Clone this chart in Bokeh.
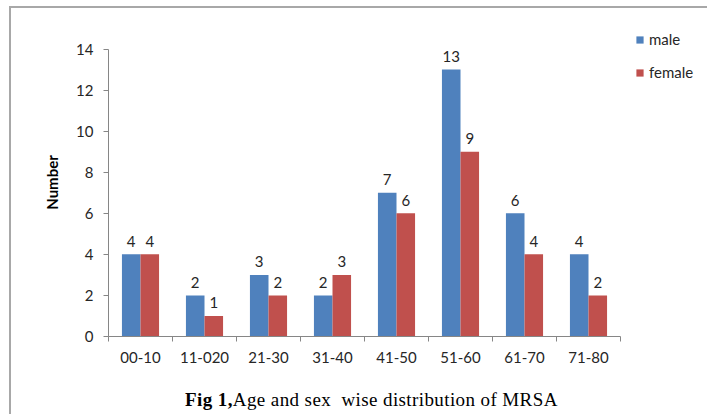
from bokeh.plotting import figure
from bokeh.layouts import column
from bokeh.models import (ColumnDataSource, Range1d, LinearAxis,
                          FixedTicker, Legend, LegendItem, Div)
from bokeh.transform import dodge
from bokeh.core.properties import value
from bokeh.embed import file_html
from bokeh.resources import INLINE

age_groups = ["00-10", "11-020", "21-30", "31-40", "41-50", "51-60", "61-70", "71-80"]
male = [4, 2, 3, 2, 7, 13, 6, 4]
female = [4, 1, 2, 3, 6, 9, 4, 2]
y_ticks = [0, 2, 4, 6, 8, 10, 12, 14]
series_names = ["male", "female"]
colors = ["#4F81BD", "#C0504D"]
title_bold = "Fig 1,"
title_rest = "Age and sex  wise distribution of MRSA"
y_label = "Number"

FONT = "Lato"
AXIS_COLOR = "#868686"
TEXT_COLOR = "#262626"

n = len(age_groups)
centers = [i + 0.5 for i in range(n)]
src = ColumnDataSource(dict(
    pos=centers, group=age_groups,
    male=male, female=female,
    male_txt=[str(v) for v in male],
    female_txt=[str(v) for v in female],
))

p = figure(x_range=Range1d(0, n + 1.25), y_range=Range1d(0, 15),
           width=696, height=370,
           output_backend="svg", toolbar_location=None,
           x_axis_location=None, y_axis_location=None,
           min_border_left=97, min_border_right=7,
           min_border_top=20, min_border_bottom=42)
p.outline_line_color = None
p.xgrid.visible = False
p.ygrid.visible = False
p.margin = 0

# y axis
yax = LinearAxis(ticker=FixedTicker(ticks=y_ticks), bounds=(0, 14))
yax.axis_line_color = AXIS_COLOR
yax.major_tick_line_color = AXIS_COLOR
yax.major_tick_out = 5
yax.major_tick_in = 0
yax.minor_tick_line_color = None
yax.major_label_text_font = FONT
yax.major_label_text_font_size = "15px"
yax.major_label_text_color = TEXT_COLOR
yax.major_label_standoff = 10
yax.axis_label = y_label
yax.axis_label_text_font = FONT
yax.axis_label_text_font_style = "bold"
yax.axis_label_text_font_size = "15px"
yax.axis_label_text_color = "#000000"
yax.axis_label_standoff = 12
p.add_layout(yax, "left")

# x axis: separator ticks between categories
sep_ticks = list(range(n + 1))
sep = LinearAxis(ticker=FixedTicker(ticks=sep_ticks), bounds=(0, n),
                 major_label_overrides={t: "" for t in sep_ticks})
sep.axis_line_color = AXIS_COLOR
sep.major_tick_line_color = AXIS_COLOR
sep.major_tick_out = 5
sep.major_tick_in = 0
sep.minor_tick_line_color = None
sep.major_label_text_font_size = "1px"
sep.major_label_standoff = 0
p.add_layout(sep, "below")

# x axis: category labels
cax = LinearAxis(ticker=FixedTicker(ticks=centers),
                 major_label_overrides={c: g for c, g in zip(centers, age_groups)})
cax.axis_line_color = None
cax.major_tick_line_color = None
cax.minor_tick_line_color = None
cax.major_label_text_font = FONT
cax.major_label_text_font_size = "15px"
cax.major_label_text_color = TEXT_COLOR
cax.major_label_standoff = 4
p.add_layout(cax, "below")

r_m = p.vbar(x=dodge("pos", -0.145), top="male", width=0.29,
             source=src, fill_color=colors[0], line_color=None)
r_f = p.vbar(x=dodge("pos", 0.145), top="female", width=0.29,
             source=src, fill_color=colors[1], line_color=None)

for off, col in ((-0.145, "male"), (0.145, "female")):
    p.text(x=dodge("pos", off), y=col, text=col + "_txt", source=src,
           text_align="center", text_baseline="alphabetic", y_offset=-13,
           text_font=value(FONT), text_font_size="15px", text_color=TEXT_COLOR)

legend = Legend(items=[LegendItem(label=series_names[0], renderers=[r_m]),
                       LegendItem(label=series_names[1], renderers=[r_f])],
                location=(527, 254), orientation="vertical")
legend.border_line_color = None
legend.background_fill_alpha = 0
legend.padding = 0
legend.margin = 0
legend.glyph_width = 9
legend.glyph_height = 9
legend.label_height = 20
legend.spacing = 13
legend.label_standoff = 5
legend.label_text_font = FONT
legend.label_text_font_size = "15px"
legend.label_text_color = TEXT_COLOR
p.add_layout(legend)

caption = Div(text="<b>%s</b>%s" % (title_bold, title_rest),
              width=696, height=36, margin=0,
              styles={"font-family": "'Liberation Serif', serif", "font-size": "19px",
                      "letter-spacing": "0.4px",
                      "line-height": "22px", "color": "#000000", "white-space": "pre",
                      "padding-left": "174px", "padding-top": "11px",
                      "box-sizing": "border-box"})

layout = column(p, caption, spacing=0, margin=(6, 0, 0, 9),
                styles={"border-left": "2px solid #a8a8a8", "border-top": "2px solid #a8a8a8"})

open("out.html", "w").write(file_html(layout, INLINE))
